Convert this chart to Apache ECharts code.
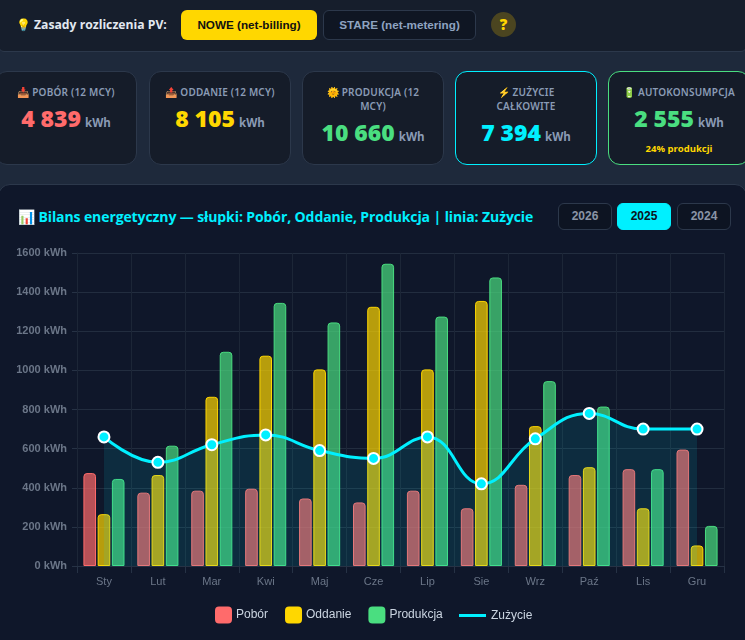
<!DOCTYPE html>
<html lang="pl">
<head>
<meta charset="utf-8">
<title>Bilans energetyczny</title>
<script src="https://cdn.jsdelivr.net/npm/echarts@6/dist/echarts.min.js"></script>
<style>
  html,body{margin:0;padding:0;width:745px;height:640px;overflow:hidden;background:#1e293b;font-family:"Open Sans","Noto Sans",sans-serif;}
  .abs{position:absolute;box-sizing:border-box;}
  #topbar{left:-2px;top:-2px;width:749px;height:54px;background:#161e2c;border:1px solid #2c384b;border-radius:0 0 6px 6px;}
  #rule{left:34px;top:16px;font-size:12.2px;font-weight:700;color:#e2e8f0;white-space:nowrap;line-height:18px;}
  .btn{border-radius:6px;font-size:11.7px;font-weight:600;text-align:center;font-family:"Liberation Sans",Arial,sans-serif;}
  #now{left:181px;top:10px;width:136px;height:30px;line-height:30px;background:#ffd700;color:#111;}
  #old{left:323px;top:10px;width:153px;height:30px;line-height:28px;background:#0f1623;border:1px solid #2c384b;color:#8ea3c0;}
  #help{left:491px;top:12px;width:25px;height:25px;line-height:25px;border-radius:50%;background:#4b4520;color:#ffd700;font-size:15px;font-weight:800;text-align:center;}
  .card{top:71px;height:94px;background:#151c29;border:1px solid #2c384b;border-radius:12px;text-align:center;padding:13px 15px 0;}
  .lab{font-size:10px;line-height:14px;font-weight:600;color:#8a9bb5;letter-spacing:.2px;font-family:"Noto Sans",sans-serif;}
  .val{font-size:23px;line-height:32px;font-weight:800;margin-top:3px;white-space:nowrap;}
  .val span{font-size:11.5px;font-weight:700;color:#8a9bb5;margin-left:-2px;}
  .note{font-size:9.5px;font-weight:700;color:#ffd700;line-height:14px;margin-top:3px;}
  #panel{left:-2px;top:184px;width:749px;height:470px;background:#0f172a;border:1px solid #2c384b;border-radius:12px;}
  #title{left:18px;top:208px;font-size:14px;font-weight:700;color:#00f0ff;white-space:nowrap;line-height:18px;letter-spacing:-.1px;}
  .yr{top:203px;width:54px;height:27px;line-height:25px;border-radius:6px;background:#0d1422;border:1px solid #2c384b;color:#8a94a6;font-size:12px;font-weight:700;text-align:center;font-family:"Liberation Sans",Arial,sans-serif;}
  .yr.on{background:#00f0ff;border-color:#00f0ff;color:#0b1220;}
  #main{left:0;top:184px;width:745px;height:456px;}
</style>
</head>
<body>
<div class="abs" id="topbar"></div>
<div class="abs" id="rule">Zasady rozliczenia PV:</div>
<div class="abs" style="left:16px;top:16px;font-size:12px;line-height:18px;">💡</div>
<div class="abs btn" id="now">NOWE (net-billing)</div>
<div class="abs btn" id="old">STARE (net-metering)</div>
<div class="abs" id="help">?</div>
<div id="cards"></div>
<div class="abs" id="panel"></div>
<div class="abs" id="title">📊 Bilans energetyczny — słupki: Pobór, Oddanie, Produkcja | linia: Zużycie</div>
<div id="years"></div>
<div class="abs" id="main"></div>
<script>
// dane
var months = ['Sty','Lut','Mar','Kwi','Maj','Cze','Lip','Sie','Wrz','Paź','Lis','Gru'];
var pobor = [475,375,385,395,345,325,385,295,415,465,495,595];
var oddanie = [265,465,865,1075,1005,1325,1005,1355,715,505,295,105];
var produkcja = [445,615,1095,1345,1245,1545,1275,1475,945,815,495,205];
var zuzycie = [660,530,620,670,590,550,660,420,650,780,700,700];
var years = ['2026','2025','2024'];

// karty u gory
var cardLabels = ['📥 POBÓR (12 MCY)','📤 ODDANIE (12 MCY)','🌞 PRODUKCJA (12 MCY)','⚡ ZUŻYCIE CAŁKOWITE','🔋 AUTOKONSUMPCJA'];
var cardValues = ['4 839','8 105','10 660','7 394','2 555'];
var cardColors = ['#ff6b6b','#ffd700','#4ade80','#00f0ff','#4ade80'];
var cardLeft = [-5,149,302,455,608];
var cardBorder = ['#2c384b','#2c384b','#2c384b','#00f0ff','#4ade80'];
var cardsHtml = '';
for(var i=0;i<cardLabels.length;i++){
  cardsHtml += '<div class="abs card" style="left:'+cardLeft[i]+'px;width:142px;border-color:'+cardBorder[i]+(i==4?';padding-left:6px;padding-right:6px':'')+'">'
    + '<div class="lab">'+cardLabels[i]+'</div>'
    + '<div class="val" style="color:'+cardColors[i]+'">'+cardValues[i]+' <span>kWh</span></div>'
    + (i==4 ? '<div class="note">24% produkcji</div>' : '')
    + '</div>';
}
document.getElementById('cards').innerHTML = cardsHtml;

var yearLeft = [558,617,677];
var yearsHtml = '';
for(var j=0;j<years.length;j++){
  yearsHtml += '<div class="abs yr'+(years[j]=='2025'?' on':'')+'" style="left:'+yearLeft[j]+'px">'+years[j]+'</div>';
}
document.getElementById('years').innerHTML = yearsHtml;

function barSeries(name,data,color,fill){
  return {
    name:name,
    type:'bar',
    data:data,
    barWidth:12.6,
    barGap:'13%',
    itemStyle:{color:fill,borderColor:color,borderWidth:1,borderRadius:[3,3,0,0]},
    z:2
  };
}

var chart = echarts.init(document.getElementById('main'));
var labelFont = '"Liberation Sans",Arial,sans-serif';
chart.setOption({
  animation:false,
  grid:{left:77,right:21,top:69,bottom:74},
  legend:[
    {
      left:215,top:422.5,padding:0,itemWidth:15,itemHeight:15,itemGap:17,
      icon:'path://M3 0H12Q15 0 15 3V12Q15 15 12 15H3Q0 15 0 12V3Q0 0 3 0Z',
      data:[
        {name:'Pobór',itemStyle:{color:'#ff6b6b'}},
        {name:'Oddanie',itemStyle:{color:'#ffd700'}},
        {name:'Produkcja',itemStyle:{color:'#4ade80'}}
      ],
      textStyle:{color:'#cbd5e1',fontSize:12,fontFamily:labelFont}
    },
    {
      left:459,top:425.5,padding:0,itemWidth:27,itemHeight:15,
      data:[{name:'Zużycie',icon:'path://M0 6H27V9H0Z',itemStyle:{color:'#00f0ff',borderWidth:0}}],
      textStyle:{color:'#cbd5e1',fontSize:12,fontFamily:labelFont}
    }
  ],
  xAxis:{
    type:'category',
    data:months,
    axisLine:{lineStyle:{color:'#263245'}},
    axisTick:{show:true,length:7,lineStyle:{color:'#263245'}},
    axisLabel:{color:'#6b7688',fontSize:11,margin:10,fontFamily:labelFont},
    splitLine:{show:true,lineStyle:{color:'#1c2637'}}
  },
  yAxis:{
    type:'value',
    min:0,max:1600,interval:200,
    axisLine:{show:true,lineStyle:{color:'#1c2637'}},
    axisTick:{show:true,length:5,lineStyle:{color:'#263245'}},
    axisLabel:{
      color:'#6b7688',fontSize:11,fontWeight:'bold',margin:10,fontFamily:labelFont,
      formatter:function(v){return v+' kWh';}
    },
    splitLine:{lineStyle:{color:'#222d3f'}}
  },
  series:[
    barSeries('Pobór',pobor,'#ff6b6b','rgba(255,107,107,0.7)'),
    barSeries('Oddanie',oddanie,'#ffd700','rgba(255,215,0,0.7)'),
    barSeries('Produkcja',produkcja,'#4ade80','rgba(74,222,128,0.7)'),
    {
      name:'Zużycie',
      type:'line',
      data:zuzycie,
      smooth:0.45,
      symbol:'circle',
      symbolSize:11,
      lineStyle:{color:'#00f0ff',width:3},
      itemStyle:{color:'#00f0ff',borderColor:'#fff',borderWidth:2},
      areaStyle:{color:'rgba(0,240,255,0.1)',opacity:1},
      z:5
    }
  ]
});
</script>
</body>
</html>
